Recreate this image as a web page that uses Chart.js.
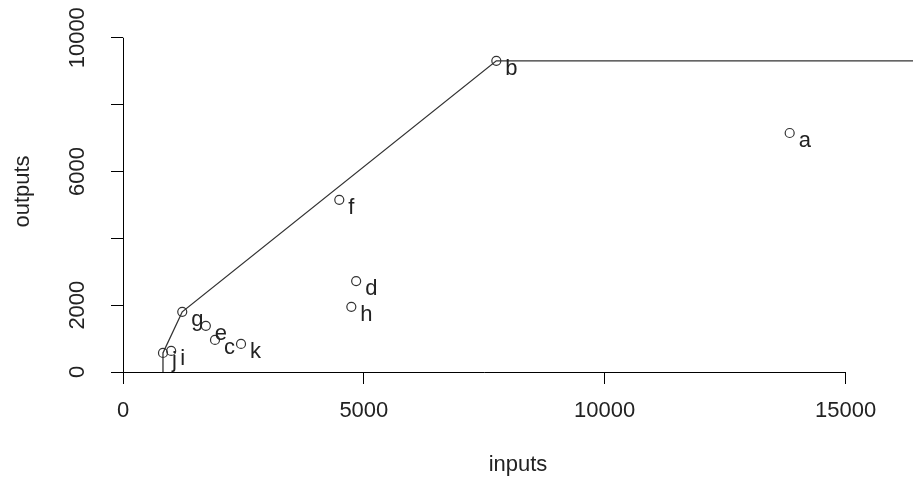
<!DOCTYPE html>
<html>
<head>
<meta charset="utf-8">
<title>DEA frontier</title>
<script src="https://cdn.jsdelivr.net/npm/chart.js@4.4.1/dist/chart.umd.min.js"></script>
<style>
    html, body { margin: 0; padding: 0; background: #fff; overflow: hidden; }
    #wrap { width: 913px; height: 479px; position: relative; }
    canvas { display: block; }
</style>
</head>
<body>
<div id="wrap"><canvas id="deaChart"></canvas></div>
<script>
// firms with their input / output values
const firms   = ['a', 'b', 'c', 'd', 'e', 'f', 'g', 'h', 'i', 'j', 'k'];
const inputs  = [13840, 7750, 1910, 4840, 1720, 4490, 1230, 4740, 1000, 830, 2450];
const outputs = [7150, 9310, 960, 2720, 1380, 5150, 1800, 1950, 630, 570, 840];

// frontier corners, last piece runs off to the right at b's output
const frontierX = [830, 830, 1230, 7750, 20000];
const frontierY = [0, 570, 1800, 9310, 9310];

// axis ticks (R skips some labels on the y axis)
const xTicks = [0, 5000, 10000, 15000];
const yTicks = [0, 2000, 4000, 6000, 8000, 10000];
const yTickLabels = ['0', '2000', '', '6000', '', '10000'];

const FONT = '"Liberation Sans", Arial, sans-serif';
const INK = '#222';

/**
 * Extra drawing in the old R base-graphics look:
 * axis lines only from first to last tick, rotated y labels, point names
 */
const rStyle = {
    id: 'rStyle',
    afterDraw(chart) {
        const ctx = chart.ctx;
        const xs = chart.scales.x;
        const ys = chart.scales.y;
        ctx.save();

        // axis lines
        ctx.strokeStyle = '#000';
        ctx.lineWidth = 1;
        ctx.beginPath();
        ctx.moveTo(xs.getPixelForValue(xTicks[0]), ys.bottom + 0.5);
        ctx.lineTo(xs.getPixelForValue(xTicks[xTicks.length - 1]), ys.bottom + 0.5);
        ctx.moveTo(xs.left + 0.5, ys.getPixelForValue(yTicks[0]));
        ctx.lineTo(xs.left + 0.5, ys.getPixelForValue(yTicks[yTicks.length - 1]));
        ctx.stroke();

        // y tick labels, parallel to the axis
        ctx.fillStyle = INK;
        ctx.font = '22px ' + FONT;
        ctx.textAlign = 'center';
        ctx.textBaseline = 'middle';
        yTicks.forEach((v, i) => {
            if (!yTickLabels[i]) return;
            ctx.save();
            ctx.translate(78, ys.getPixelForValue(v));
            ctx.rotate(-Math.PI / 2);
            ctx.fillText(yTickLabels[i], 0, 0);
            ctx.restore();
        });

        // firm names beside the points
        ctx.textAlign = 'left';
        firms.forEach((name, i) => {
            ctx.fillText(name,
                xs.getPixelForValue(inputs[i]) + 9,
                ys.getPixelForValue(outputs[i]) + 8);
        });

        ctx.restore();
    }
};

// no extra room for overhanging tick labels, the plot runs to the edge
function noScalePadding(scale) {
    scale.paddingLeft = 0;
    scale.paddingRight = 0;
    scale.paddingTop = 0;
    scale.paddingBottom = 0;
}

document.addEventListener('DOMContentLoaded', function() {
    const el = document.getElementById('deaChart');

    new Chart(el, {
        type: 'scatter',
        data: {
            datasets: [{
                label: 'frontier',
                data: frontierX.map((x, i) => ({ x: x, y: frontierY[i] })),
                showLine: true,
                borderColor: '#333',
                borderWidth: 1.3,
                pointRadius: 0,
                fill: false,
                tension: 0
            }, {
                label: 'firms',
                data: inputs.map((x, i) => ({ x: x, y: outputs[i] })),
                pointStyle: 'circle',
                pointRadius: 4.5,
                pointBorderWidth: 1.2,
                pointBorderColor: '#333',
                pointBackgroundColor: 'rgba(0,0,0,0)'
            }]
        },
        options: {
            responsive: true,
            maintainAspectRatio: false,
            animation: false,
            devicePixelRatio: 1,
            layout: {
                autoPadding: false,
                padding: { top: 11, right: 0, bottom: 0, left: 0 }
            },
            plugins: {
                legend: { display: false },
                tooltip: { enabled: false }
            },
            scales: {
                x: {
                    type: 'linear',
                    min: 0,
                    max: 16400,
                    afterBuildTicks: function(scale) {
                        scale.ticks = xTicks.map(v => ({ value: v }));
                    },
                    afterFit: function(scale) {
                        scale.height = 107;
                        noScalePadding(scale);
                    },
                    border: { display: false },
                    grid: {
                        drawOnChartArea: false,
                        drawTicks: true,
                        tickLength: 12,
                        color: '#000',
                        lineWidth: 1
                    },
                    ticks: {
                        padding: 14,
                        maxRotation: 0,
                        color: INK,
                        font: { family: FONT, size: 22 },
                        callback: function(value) {
                            return String(value);
                        }
                    },
                    title: {
                        display: true,
                        text: 'inputs',
                        color: INK,
                        font: { family: FONT, size: 22 },
                        padding: { top: 0, bottom: 1 }
                    }
                },
                y: {
                    type: 'linear',
                    min: 0,
                    max: 10800,
                    afterBuildTicks: function(scale) {
                        scale.ticks = yTicks.map(v => ({ value: v }));
                    },
                    afterFit: function(scale) {
                        scale.width = 123;
                        noScalePadding(scale);
                    },
                    border: { display: false },
                    grid: {
                        drawOnChartArea: false,
                        drawTicks: true,
                        tickLength: 12,
                        color: '#000',
                        lineWidth: 1
                    },
                    ticks: {
                        color: 'rgba(0,0,0,0)',
                        font: { family: FONT, size: 22 }
                    },
                    title: {
                        display: true,
                        text: 'outputs',
                        color: INK,
                        font: { family: FONT, size: 22 },
                        padding: { top: 10, bottom: 0 }
                    }
                }
            }
        },
        plugins: [rStyle]
    });
});
</script>
</body>
</html>
